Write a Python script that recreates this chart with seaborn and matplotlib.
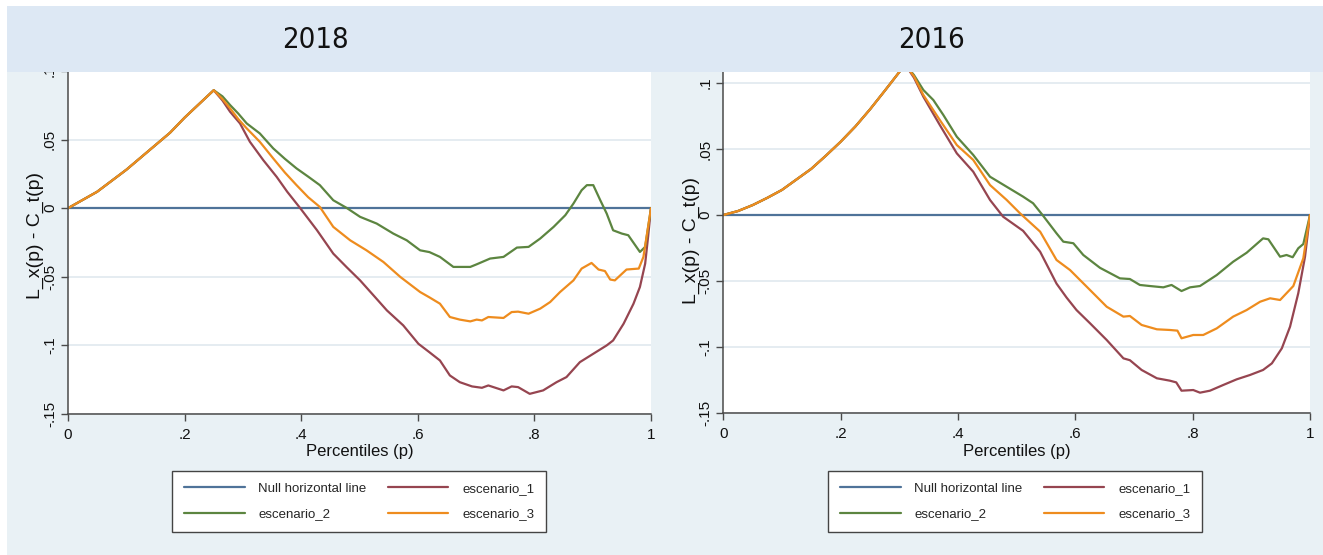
import numpy as np
import pandas as pd
import matplotlib
matplotlib.use("Agg")
import matplotlib.pyplot as plt
from matplotlib.patches import Rectangle
from matplotlib.lines import Line2D
import seaborn as sns

# ---------------------------------------------------------------------------
# Data: L_x(p) - C_t(p) by percentile, per scenario
# ---------------------------------------------------------------------------
series_names = ["Null horizontal line", "escenario_1", "escenario_2", "escenario_3"]
panel_titles = ["2018", "2016"]

null_p = [0.0, 1.0]
null_v = [0.0, 0.0]

# 2018: common rising stretch up to the kink
rise18_p = [0.0, 0.025, 0.05, 0.075, 0.10, 0.125, 0.15, 0.175, 0.20, 0.225, 0.25]
rise18_v = [0.0, 0.006, 0.012, 0.020, 0.028, 0.037, 0.046, 0.055, 0.066, 0.076, 0.086]

esc1_18_p = [0.265, 0.278, 0.295, 0.312, 0.335, 0.358, 0.376, 0.398, 0.427, 0.455, 0.478,
             0.501, 0.525, 0.547, 0.575, 0.601, 0.620, 0.638, 0.655, 0.672, 0.693, 0.710,
             0.721, 0.747, 0.761, 0.772, 0.792, 0.815, 0.838, 0.855, 0.878, 0.901, 0.924,
             0.935, 0.953, 0.970, 0.981, 0.990, 0.995, 1.0]
esc1_18_v = [0.0785, 0.0703, 0.0618, 0.0484, 0.035, 0.0228, 0.012, 0.0002, -0.016, -0.0331,
             -0.043, -0.0526, -0.064, -0.0745, -0.0854, -0.0988, -0.105, -0.111, -0.1219,
             -0.1268, -0.1299, -0.1309, -0.1292, -0.1328, -0.1299, -0.1304, -0.1353, -0.1328,
             -0.1268, -0.1231, -0.1122, -0.1061, -0.100, -0.0964, -0.0842, -0.0696, -0.0574,
             -0.0404, -0.0209, 0.0]

esc2_18_p = [0.265, 0.278, 0.292, 0.3065, 0.329, 0.352, 0.372, 0.392, 0.412, 0.432, 0.455,
             0.478, 0.501, 0.5295, 0.558, 0.581, 0.604, 0.620, 0.638, 0.661, 0.690, 0.701,
             0.724, 0.747, 0.770, 0.790, 0.810, 0.833, 0.853, 0.867, 0.881, 0.890, 0.901,
             0.913, 0.924, 0.935, 0.950, 0.961, 0.981, 0.990, 1.0]
esc2_18_v = [0.0815, 0.0752, 0.069, 0.0618, 0.0545, 0.0436, 0.036, 0.029, 0.023, 0.0168,
             0.0058, 0.0002, -0.0063, -0.0112, -0.0185, -0.0234, -0.0307, -0.032, -0.0355,
             -0.0428, -0.0428, -0.0409, -0.0367, -0.0355, -0.0287, -0.0282, -0.0221, -0.0136,
             -0.0051, 0.0034, 0.0131, 0.0168, 0.0168, 0.0058, -0.0039, -0.0161, -0.0185,
             -0.0197, -0.0319, -0.0282, 0.0]

esc3_18_p = [0.265, 0.278, 0.292, 0.3065, 0.329, 0.352, 0.372, 0.392, 0.412, 0.432, 0.455,
             0.484, 0.512, 0.541, 0.570, 0.604, 0.620, 0.638, 0.655, 0.672, 0.690, 0.701,
             0.710, 0.721, 0.747, 0.761, 0.772, 0.790, 0.810, 0.827, 0.844, 0.867, 0.881,
             0.898, 0.910, 0.921, 0.930, 0.938, 0.958, 0.979, 0.987, 1.0]
esc3_18_v = [0.0795, 0.0728, 0.065, 0.0582, 0.0484, 0.0363, 0.026, 0.0168, 0.008, 0.0009,
             -0.0136, -0.0234, -0.0307, -0.0392, -0.0501, -0.0611, -0.065, -0.0696, -0.0793,
             -0.0812, -0.0825, -0.0812, -0.0818, -0.0793, -0.0800, -0.0757, -0.0754, -0.0769,
             -0.0732, -0.0684, -0.0611, -0.0526, -0.044, -0.0399, -0.0447, -0.0458, -0.052,
             -0.0526, -0.0447, -0.044, -0.0355, 0.0]

# 2016: common rising stretch up to the kink
rise16_p = [0.0, 0.025, 0.05, 0.075, 0.10, 0.125, 0.15, 0.175, 0.20, 0.225, 0.25, 0.275, 0.31]
rise16_v = [0.0, 0.003, 0.0075, 0.013, 0.019, 0.027, 0.035, 0.045, 0.0555, 0.067, 0.080,
            0.094, 0.114]

esc1_16_p = [0.325, 0.341, 0.369, 0.398, 0.426, 0.4546, 0.477, 0.511, 0.54, 0.568, 0.585,
             0.602, 0.625, 0.6535, 0.682, 0.693, 0.713, 0.739, 0.761, 0.772, 0.781, 0.801,
             0.8125, 0.8295, 0.852, 0.875, 0.8977, 0.920, 0.935, 0.952, 0.966, 0.980,
             0.9915, 1.0]
esc1_16_v = [0.104, 0.0896, 0.0682, 0.0467, 0.0328, 0.0114, -0.0013, -0.012, -0.0278, -0.052,
             -0.0625, -0.072, -0.082, -0.0947, -0.1086, -0.110, -0.1174, -0.1237, -0.1255,
             -0.1268, -0.1331, -0.1326, -0.1346, -0.1331, -0.1288, -0.1245, -0.1212, -0.1174,
             -0.1124, -0.101, -0.0846, -0.0593, -0.0316, 0.0]

esc2_16_p = [0.325, 0.341, 0.358, 0.375, 0.398, 0.426, 0.4546, 0.483, 0.511, 0.528, 0.545,
             0.568, 0.5795, 0.5966, 0.6136, 0.642, 0.676, 0.693, 0.710, 0.727, 0.750, 0.764,
             0.781, 0.7955, 0.8125, 0.841, 0.869, 0.892, 0.920, 0.929, 0.949, 0.960, 0.9705,
             0.980, 0.9886, 1.0]
esc2_16_v = [0.106, 0.0947, 0.0871, 0.0758, 0.0593, 0.0455, 0.029, 0.0214, 0.0139, 0.0089,
             -0.0005, -0.0139, -0.0202, -0.0214, -0.0303, -0.0400, -0.048, -0.0485, -0.053,
             -0.0538, -0.0548, -0.053, -0.0576, -0.0548, -0.0538, -0.0455, -0.0354, -0.0286,
             -0.0177, -0.0184, -0.0316, -0.0303, -0.032, -0.0252, -0.022, 0.0]

esc3_16_p = [0.325, 0.341, 0.369, 0.398, 0.426, 0.4546, 0.483, 0.5057, 0.54, 0.568, 0.591,
             0.625, 0.6535, 0.682, 0.693, 0.713, 0.739, 0.761, 0.774, 0.781, 0.801, 0.818,
             0.841, 0.869, 0.892, 0.915, 0.932, 0.949, 0.9716, 0.9886, 1.0]
esc3_16_v = [0.105, 0.0909, 0.072, 0.053, 0.0417, 0.0227, 0.0114, 0.0013, -0.0126, -0.0341,
             -0.0417, -0.0568, -0.0695, -0.077, -0.0765, -0.0833, -0.0866, -0.0871, -0.0876,
             -0.0934, -0.0909, -0.0909, -0.0859, -0.077, -0.072, -0.0657, -0.0631, -0.0644,
             -0.0538, -0.0328, 0.0]

x_ticks = [0, 0.2, 0.4, 0.6, 0.8, 1.0]
x_tick_labels = ["0", ".2", ".4", ".6", ".8", "1"]
y_ticks = [-0.15, -0.10, -0.05, 0.0, 0.05, 0.10]
y_tick_labels = ["-.15", "-.1", "-.05", "0", ".05", ".1"]

palette = {
    "Null horizontal line": "#4f7399",
    "escenario_1": "#964550",
    "escenario_2": "#5c8540",
    "escenario_3": "#ee8c1e",
}


def long_table(rise_p, rise_v, curves):
    parts = [pd.DataFrame({"p": null_p, "value": null_v, "serie": series_names[0]})]
    for name, (pp, vv) in zip(series_names[1:], curves):
        parts.append(pd.DataFrame({"p": list(rise_p) + list(pp),
                                   "value": list(rise_v) + list(vv),
                                   "serie": name}))
    return pd.concat(parts, ignore_index=True)


df18 = long_table(rise18_p, rise18_v,
                  [(esc1_18_p, esc1_18_v), (esc2_18_p, esc2_18_v), (esc3_18_p, esc3_18_v)])
df16 = long_table(rise16_p, rise16_v,
                  [(esc1_16_p, esc1_16_v), (esc2_16_p, esc2_16_v), (esc3_16_p, esc3_16_v)])

# ---------------------------------------------------------------------------
# Figure
# ---------------------------------------------------------------------------
sns.set_theme(style="white")
plt.rcParams["font.family"] = ["Liberation Sans", "DejaVu Sans"]

W, H = 1323, 555
fig = plt.figure(figsize=(W / 100, H / 100), dpi=100, facecolor="white")


def fx(px):
    return px / W


def fy(py):
    return 1 - py / H


# light graph-region background
fig.add_artist(Rectangle((fx(7), 0), fx(W - 7), fy(72), transform=fig.transFigure,
                         facecolor="#e9f1f5", edgecolor="none", zorder=-10))

# axes boxes in pixel terms: (left, top, right, bottom)
boxes = [(68, 71, 651, 414), (723.3, 56.6, 1310, 413)]
ymax = [0.10, 0.12]
ylab_px = [44, 700]
ylab_y = [0.52, 0.485]
legend_x = [172, 828]
dfs = [df18, df16]

for i in range(2):
    l, t, r, b = boxes[i]
    ax = fig.add_axes([fx(l), fy(b), fx(r - l), (b - t) / H])
    ax.set_facecolor("white")
    sns.lineplot(data=dfs[i], x="p", y="value", hue="serie", hue_order=series_names,
                 palette=palette, estimator=None, sort=False, linewidth=1.6,
                 legend=False, ax=ax)
    ax.set_xlim(0, 1)
    ax.set_ylim(-0.15, ymax[i])
    ax.set_xticks(x_ticks)
    ax.set_xticklabels(x_tick_labels, fontsize=11)
    ax.set_yticks(y_ticks)
    ax.set_yticklabels(y_tick_labels, fontsize=11, rotation=90, va="center", ha="right")
    ax.grid(axis="y", color="#e3ebf0", linewidth=1.3)
    ax.grid(axis="x", visible=False)
    ax.set_axisbelow(True)
    for s in ["top", "right"]:
        ax.spines[s].set_visible(False)
    for s in ["left", "bottom"]:
        ax.spines[s].set_color("#4a4a4a")
        ax.spines[s].set_linewidth(1.1)
    ax.tick_params(axis="both", which="major", bottom=True, left=True, direction="out",
                   length=5, width=1.0, color="#4a4a4a", labelcolor="#111111")
    ax.tick_params(axis="x", pad=5)
    ax.tick_params(axis="y", pad=3)
    ax.set_xlabel("Percentiles (p)", fontsize=12, color="#111111")
    ax.set_ylabel("L_x(p) - C_t(p)", fontsize=14, color="#111111")
    ax.xaxis.set_label_coords(0.5, -(444 - b) / (b - t))
    ax.yaxis.set_label_coords((ylab_px[i] - l) / (r - l), ylab_y[i])

    handles = [Line2D([], [], color=palette[n], linewidth=1.6) for n in series_names]
    order = [0, 2, 1, 3]
    leg = fig.legend([handles[k] for k in order], [series_names[k] for k in order],
                     ncol=2, loc="upper left",
                     bbox_to_anchor=(fx(legend_x[i]), fy(471)),
                     frameon=True, fancybox=False, framealpha=1, facecolor="white",
                     edgecolor="#444444", fontsize=9.5, handlelength=4.6,
                     handletextpad=1.05, columnspacing=1.6, borderpad=0.9,
                     labelspacing=1.0, borderaxespad=0)
    leg.get_frame().set_linewidth(1.0)

# title band on top
fig.add_artist(Rectangle((fx(7), fy(72)), fx(W - 7), (72 - 6) / H, transform=fig.transFigure,
                         facecolor="#dde8f4", edgecolor="none", zorder=5))
title_x = [315, 931]
for i in range(2):
    fig.text(fx(title_x[i]), fy(40), panel_titles[i], fontsize=21, ha="center", va="center",
             family="DejaVu Sans", fontstretch="condensed",
             color="#111111", zorder=6)

fig.savefig("out.png", dpi=100, facecolor="white")
